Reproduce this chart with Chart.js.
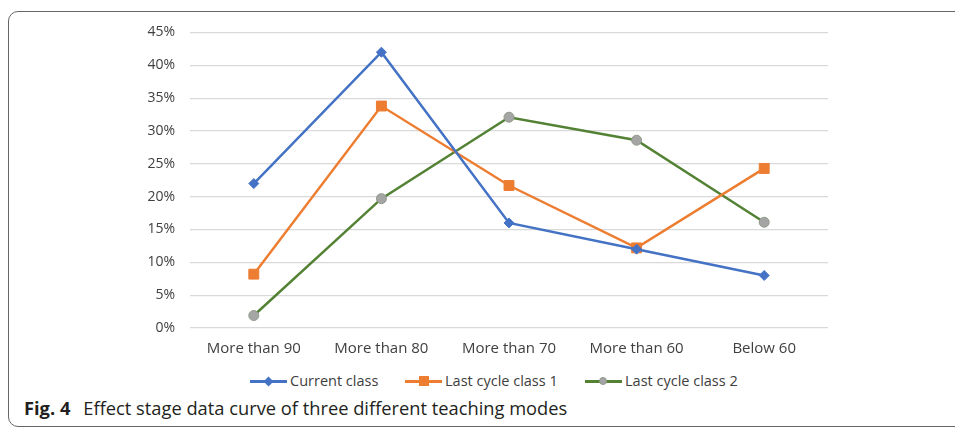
<!DOCTYPE html>
<html>
<head>
<meta charset="utf-8">
<script src="https://cdn.jsdelivr.net/npm/chart.js@4.4.1/dist/chart.umd.min.js"></script>
<style>
    body { margin: 0; width: 955px; height: 428px; overflow: hidden; background: #fff; font-family: "Open Sans", sans-serif; position: relative; }
    #frame { position: absolute; left: 8px; top: 11px; width: 1000px; height: 414px; border: 1.5px solid #666; border-radius: 10px; }
    #chart { position: absolute; left: 0; top: 1px; }
    .legendItem { position: absolute; top: 372px; height: 18px; font-size: 14.5px; color: #404040; line-height: 18px; white-space: nowrap; }
    .legendItem .line { position: absolute; left: 0; top: 8px; width: 37px; height: 2.5px; }
    .legendItem .mark { position: absolute; }
    .legendItem span.txt { position: absolute; left: 40px; top: 0; }
    #caption { position: absolute; left: 24px; top: 395px; font-size: 18.3px; color: #231f20; line-height: 26px; white-space: nowrap; }
    #caption b { margin-right: 13px; }
</style>
</head>
<body>
<div id="frame"></div>
<canvas id="chart" width="955" height="370"></canvas>
<div id="legend"></div>
<div id="caption"><b>Fig. 4</b>Effect stage data curve of three different teaching modes</div>
<script>
// data (percent)
var categories = ['More than 90', 'More than 80', 'More than 70', 'More than 60', 'Below 60'];
var currentClass = [22, 42, 16, 12, 8];
var lastCycle1 = [8.2, 33.8, 21.7, 12.2, 24.3];
var lastCycle2 = [1.9, 19.7, 32.1, 28.6, 16.1];
var seriesNames = ['Current class', 'Last cycle class 1', 'Last cycle class 2'];

var blue = '#4472C4', orange = '#ED7D31', green = '#548235', grey = '#A5A5A5';

document.addEventListener('DOMContentLoaded', function() {
    var ctx = document.getElementById('chart').getContext('2d');
    new Chart(ctx, {
        type: 'line',
        data: {
            labels: categories,
            datasets: [{
                label: seriesNames[0],
                data: currentClass,
                borderColor: blue,
                backgroundColor: blue,
                borderWidth: 2.5,
                pointStyle: 'rectRot',
                pointRadius: 5,
                pointBackgroundColor: blue,
                pointBorderColor: blue,
                pointBorderWidth: 1
            }, {
                label: seriesNames[1],
                data: lastCycle1,
                borderColor: orange,
                backgroundColor: orange,
                borderWidth: 2.5,
                pointStyle: 'rect',
                pointRadius: 7,
                pointBackgroundColor: orange,
                pointBorderColor: orange,
                pointBorderWidth: 1
            }, {
                label: seriesNames[2],
                data: lastCycle2,
                borderColor: green,
                backgroundColor: green,
                borderWidth: 2.5,
                pointStyle: 'circle',
                pointRadius: 5,
                pointBackgroundColor: grey,
                pointBorderColor: '#8f9a8a',
                pointBorderWidth: 1
            }]
        },
        options: {
            responsive: false,
            animation: false,
            layout: { padding: { left: 0, right: 127, top: 31.5, bottom: 3 } },
            plugins: {
                legend: { display: false },
                tooltip: { enabled: false }
            },
            scales: {
                x: {
                    offset: true,
                    grid: { display: false, drawTicks: false },
                    border: { display: false },
                    ticks: { color: '#404040', font: { family: 'Open Sans', size: 15 }, padding: 12, maxRotation: 0 },
                    afterFit: function(scale) { scale.height = 40; }
                },
                y: {
                    min: 0,
                    max: 45,
                    grid: { color: '#d9d9d9', lineWidth: 1.3, drawTicks: false },
                    border: { display: false },
                    ticks: {
                        stepSize: 5,
                        padding: 15,
                        color: '#404040',
                        font: { family: 'Open Sans', size: 14 },
                        callback: function(v) { return v + '%'; }
                    },
                    afterFit: function(scale) { scale.width = 190; }
                }
            }
        }
    });

    // legend in the Excel style: short line with the marker on it
    var legend = document.getElementById('legend');
    var colors = [blue, orange, green];
    var lefts = [250, 405, 585];
    for (var i = 0; i < seriesNames.length; i++) {
        var item = document.createElement('div');
        item.className = 'legendItem';
        item.style.left = lefts[i] + 'px';
        var line = document.createElement('div');
        line.className = 'line';
        line.style.background = colors[i];
        item.appendChild(line);
        var mark = document.createElement('div');
        mark.className = 'mark';
        if (i == 0) {
            mark.style.cssText = 'left:15px;top:5.5px;width:7px;height:7px;background:' + blue + ';transform:rotate(45deg);';
        } else if (i == 1) {
            mark.style.cssText = 'left:13.5px;top:4px;width:10px;height:10px;background:' + orange + ';';
        } else {
            mark.style.cssText = 'left:14px;top:4.5px;width:8px;height:8px;border-radius:50%;background:' + grey + ';border:1px solid #8f9a8a;box-sizing:border-box;';
        }
        item.appendChild(mark);
        var txt = document.createElement('span');
        txt.className = 'txt';
        txt.textContent = seriesNames[i];
        item.appendChild(txt);
        legend.appendChild(item);
    }
});
</script>
</body>
</html>
